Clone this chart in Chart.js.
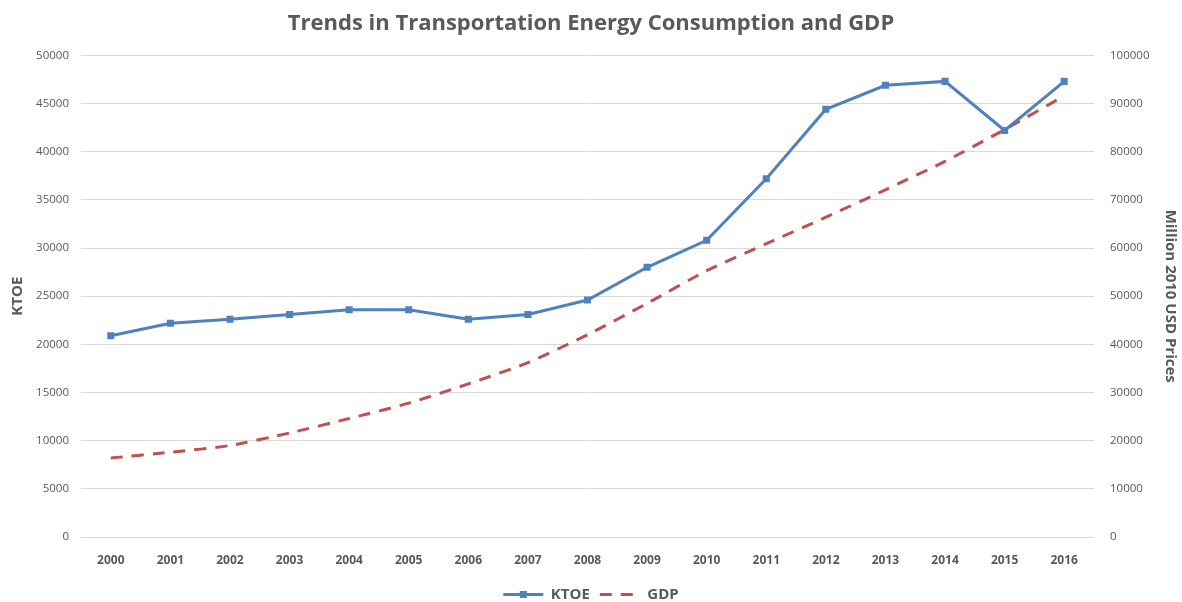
<!DOCTYPE html>
<html>
<head>
<meta charset="utf-8">
<script src="https://cdn.jsdelivr.net/npm/chart.js@4"></script>
<style>
  html, body { margin: 0; padding: 0; background: #fff; }
  #wrap { width: 1182px; height: 602px; }
</style>
</head>
<body>
<div id="wrap"><canvas id="chart1" width="1182" height="602"></canvas></div>
<script>
// chart data
var years = ['2000','2001','2002','2003','2004','2005','2006','2007','2008','2009','2010','2011','2012','2013','2014','2015','2016'];
var ktoe = [20900, 22200, 22600, 23100, 23600, 23600, 22600, 23100, 24600, 28000, 30800, 37200, 44400, 46900, 47300, 42200, 47300];
var gdp = [16400, 17600, 19000, 21600, 24600, 27800, 31800, 36200, 42000, 48500, 55300, 60900, 66400, 72100, 78000, 84600, 91600];

var grey = '#595959';
var fontName = "'Open Sans', 'DejaVu Sans', sans-serif";
var lineColors = ['#4f81bd', '#c0504d'];

const ctx1 = document.getElementById('chart1').getContext('2d');

// square marker on the KTOE legend line
var legendMarker = {
    id: 'legendMarker',
    afterDraw: function(chart){
        var boxes = chart.legend && chart.legend.legendHitBoxes;
        if (!boxes || !boxes[0]) return;
        var b = boxes[0];
        var c = chart.ctx;
        c.save();
        c.fillStyle = lineColors[0];
        c.fillRect(b.left + 20 - 3.5, b.top + b.height / 2 - 3.5, 7, 7);
        c.restore();
    }
};

var graphData = {
    type: 'line',
    data: {
        labels: years,
        datasets: [{
            label: 'KTOE',
            data: ktoe,
            yAxisID: 'y',
            borderColor: lineColors[0],
            backgroundColor: lineColors[0],
            borderWidth: 3,
            pointStyle: 'rect',
            pointRadius: 5,
            pointBorderWidth: 0,
            tension: 0
        },
        {
            label: 'GDP',
            data: gdp,
            yAxisID: 'y1',
            borderColor: lineColors[1],
            backgroundColor: lineColors[1],
            borderWidth: 3,
            borderDash: [12, 9],
            pointRadius: 0,
            tension: 0.2
        }]
    },
    options: {
        responsive: false,
        animation: false,
        layout: {padding: {top: 0, left: 0, right: 0, bottom: -10}},
        plugins: {
            title: {
                display: true,
                text: 'Trends in Transportation Energy Consumption and GDP',
                color: grey,
                font: {family: fontName, size: 22, weight: 'bold'},
                padding: {top: 11, bottom: 18}
            },
            legend: {
                position: 'bottom',
                labels: {
                    color: grey,
                    font: {family: fontName, size: 15, weight: 'bold'},
                    usePointStyle: true,
                    pointStyleWidth: 40,
                    padding: 10,
                    generateLabels: function(chart){
                        var items = Chart.defaults.plugins.legend.labels.generateLabels(chart);
                        items.forEach(function(it, i){
                            it.pointStyle = 'line';
                            it.lineWidth = 3;
                            it.strokeStyle = lineColors[i];
                            it.fillStyle = lineColors[i];
                            it.lineDash = i == 1 ? [12, 9] : [];
                        });
                        return items;
                    }
                }
            },
            tooltip: {enabled: false}
        },
        scales: {
            x: {
                offset: true,
                grid: {display: false},
                border: {display: false},
                ticks: {color: grey, font: {family: fontName, size: 12, weight: 'bold'}, padding: 8, maxRotation: 0, autoSkip: false},
                afterFit: function(s){ s.height = 40; }
            },
            y: {
                position: 'left',
                min: 0,
                max: 50000,
                grid: {color: '#d9d9d9', lineWidth: 1, drawTicks: false},
                border: {display: false},
                ticks: {stepSize: 5000, color: grey, font: {family: fontName, size: 11.5}, padding: 12,
                    callback: function(v){ return String(v); }},
                title: {display: true, text: 'KTOE', color: grey, font: {family: fontName, size: 15, weight: 'bold'}, padding: {top: 9, bottom: 4}},
                afterFit: function(s){ s.width = 81; }
            },
            y1: {
                position: 'right',
                min: 0,
                max: 100000,
                grid: {display: false, drawTicks: false},
                border: {display: false},
                ticks: {stepSize: 10000, color: grey, font: {family: fontName, size: 11.5}, padding: 16,
                    callback: function(v){ return String(v); }},
                title: {display: true, text: 'Million 2010 USD Prices', color: grey, font: {family: fontName, size: 15, weight: 'bold'}, padding: {top: 3, bottom: 4}},
                afterFit: function(s){ s.width = 88; }
            }
        }
    },
    plugins: [legendMarker]
};

const chart = new Chart(ctx1, graphData);
</script>
</body>
</html>
